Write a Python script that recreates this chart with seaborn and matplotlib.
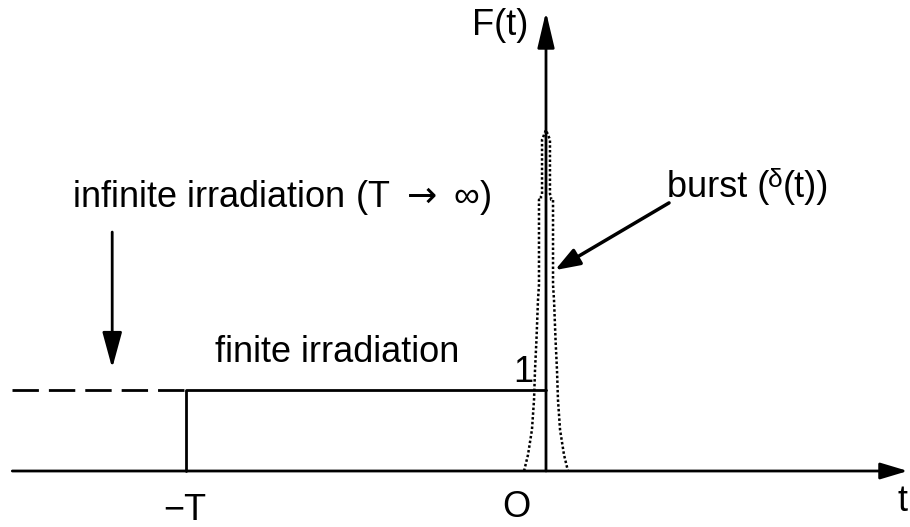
import numpy as np
import matplotlib
matplotlib.use("Agg")
import matplotlib.pyplot as plt
import seaborn as sns

# schematic values, in units of t and F(t)
T = 4.0                 # start of finite irradiation (at -T)
level = 1.0             # finite irradiation level
t_left = -5.93          # left end of time axis
t_right = 4.02          # tip of time axis
F_top = 5.67            # tip of F axis

# dotted burst profile, right half (t offset, F)
pulse_dt = [0.244, 0.20, 0.156, 0.133, 0.122, 0.106, 0.089, 0.078, 0.078,
            0.056, 0.056, 0.044, 0.044, 0.0]
pulse_F = [0.0, 0.20, 0.51, 0.88, 1.25, 1.62, 2.11, 2.30, 3.35,
           3.35, 3.39, 3.42, 4.09, 4.21]

sns.set_style("white")
plt.rcParams['font.family'] = ['Liberation Sans', 'DejaVu Sans']
plt.rcParams['text.color'] = 'black'

fig = plt.figure(figsize=(9.1, 5.27), dpi=100)
ax = fig.add_axes([0, 0, 1, 1])
ax.set_xlim(-546 / 90, 364 / 90)
ax.set_ylim((471 - 527) / 81, 471 / 81)
ax.axis('off')

lw = 2.0
fs = 26

# dotted burst
px = np.concatenate([-np.array(pulse_dt), np.array(pulse_dt)[::-1]])
py = np.concatenate([np.array(pulse_F), np.array(pulse_F)[::-1]])
sns.lineplot(x=px, y=py, sort=False, estimator=None, ax=ax,
             color='k', lw=1.8, linestyle=(0, (1, 0.9)))

# finite irradiation step
sns.lineplot(x=[-T, -T, 0], y=[0, level, level], sort=False, estimator=None,
             ax=ax, color='k', lw=lw)
# infinite irradiation (dashed)
sns.lineplot(x=[t_left, -T], y=[level, level], sort=False, estimator=None,
             ax=ax, color='k', lw=lw, linestyle=(0, (9.5, 3.6)))

# axes with arrows
ax.annotate('', xy=(t_right, 0), xytext=(t_left, 0),
            arrowprops=dict(arrowstyle='-|>,head_length=0.6,head_width=0.18',
                            mutation_scale=28, lw=lw, color='k',
                            shrinkA=0, shrinkB=0))
ax.annotate('', xy=(0, F_top), xytext=(0, 0),
            arrowprops=dict(arrowstyle='-|>,head_length=0.55,head_width=0.13',
                            mutation_scale=40, lw=lw, color='k',
                            shrinkA=0, shrinkB=0))

# pointer arrows
ax.annotate('', xy=(-4.82, 1.27), xytext=(-4.82, 2.95),
            arrowprops=dict(arrowstyle='-|>,head_length=0.55,head_width=0.15',
                            mutation_scale=40, lw=lw, color='k',
                            shrinkA=0, shrinkB=0))
ax.annotate('', xy=(0.10, 2.48), xytext=(1.367, 3.31),
            arrowprops=dict(arrowstyle='-|>,head_length=0.5,head_width=0.18',
                            mutation_scale=30, lw=lw + 0.5, color='k',
                            shrinkA=0, shrinkB=0))

# labels
txt = dict(fontsize=fs, ha='left', va='baseline', color='black')
ax.text(-0.822, 5.38, 'F(t)', **txt)
ax.text(-5.267, 3.26, 'infinite irradiation (T $\\rightarrow$ \u221e)', **txt)
ax.text(-3.678, 1.346, 'finite irradiation', **txt)
ax.text(-0.367, 1.10, '1', **txt)
ax.text(1.344, 3.383, 'burst (', **txt)
ax.text(2.467, 3.506, '\u03b4', fontsize=19, ha='left', va='baseline', color='black')
ax.text(2.633, 3.383, '(t))', **txt)
ax.text(-4.256, -0.60, '\u2212T', **txt)
ax.text(-0.489, -0.57, 'O', **txt)
ax.text(3.90, -0.49, 't', **txt)

fig.savefig('out.png', dpi=100)
